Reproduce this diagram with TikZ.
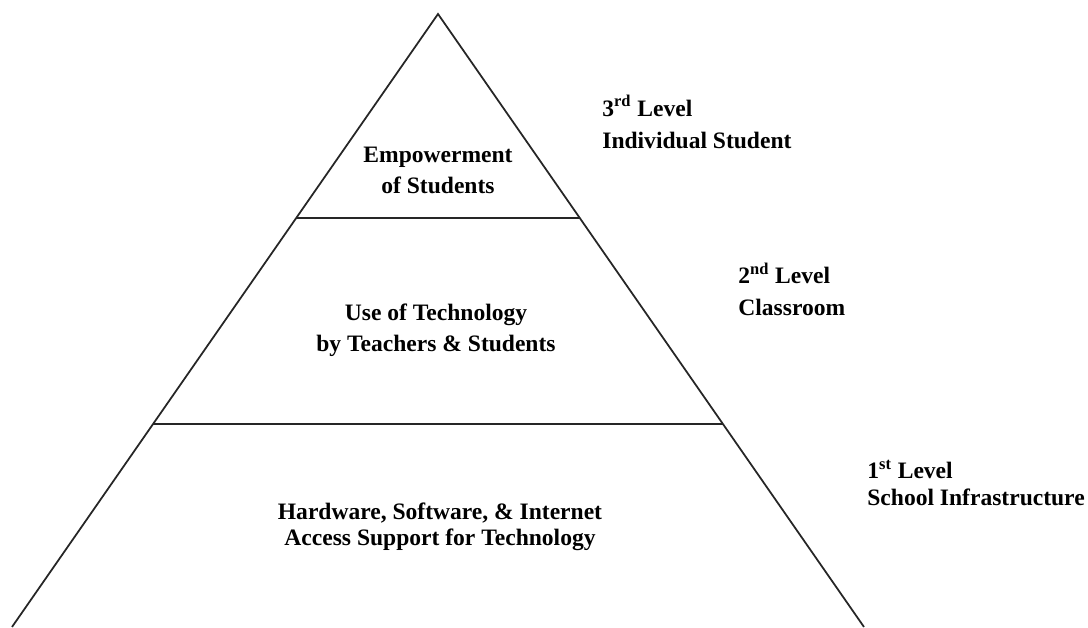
\documentclass[tikz,border=0pt]{standalone}
\usepackage{fontspec}
\setmainfont{Liberation Serif}
\usepackage{tikz}
\usetikzlibrary{positioning,calc}

\begin{document}
\begin{tikzpicture}[
                % text inside the pyramid and beside it
                tierText/.style={align=center, font=\fontsize{13.4}{17.6}\selectfont\bfseries, inner sep=0pt},
                levelText/.style={align=left, anchor=west, font=\fontsize{13.4}{18.2}\selectfont\bfseries, inner sep=0pt},
                edge/.style={draw=black!85, line width=1pt}
            ]
                \useasboundingbox (0,0) rectangle (21.76,12.56);

                % Corners of the pyramid
                \coordinate (apex) at (8.76,12.28);
                \coordinate (baseL) at (0.24,0.02);
                \coordinate (baseR) at (17.28,0.02);

                % Tier boundaries
                \coordinate (upperL) at ($(apex)!0.3328!(baseL)$);
                \coordinate (upperR) at ($(apex)!0.3328!(baseR)$);
                \coordinate (lowerL) at ($(apex)!0.6688!(baseL)$);
                \coordinate (lowerR) at ($(apex)!0.6688!(baseR)$);

                \draw[edge] (baseL) -- (apex) -- (baseR);
                \draw[edge] (upperL) -- (upperR);
                \draw[edge] (lowerL) -- (lowerR);

                % Tiers
                \node[tierText] (top) at (8.76,9.16) {Empowerment\\of Students};
                \node[tierText] (middle) at (8.72,5.96) {Use of Technology\\by Teachers \& Students};
                \node[tierText, font=\fontsize{13.4}{15}\selectfont\bfseries] (bottom) at (8.8,2.02) {Hardware, Software, \& Internet\\Access Support for Technology};

                % Levels
                \node[levelText] (third) at (12.04,10.12) {3\textsuperscript{rd} Level\\Individual Student};
                \node[levelText] (second) at (14.76,6.78) {2\textsuperscript{nd} Level\\Classroom};
                \node[levelText, font=\fontsize{13.4}{15}\selectfont\bfseries] (first) at (17.34,2.9) {1\textsuperscript{st} Level\\School Infrastructure};

            \end{tikzpicture}
\end{document}
